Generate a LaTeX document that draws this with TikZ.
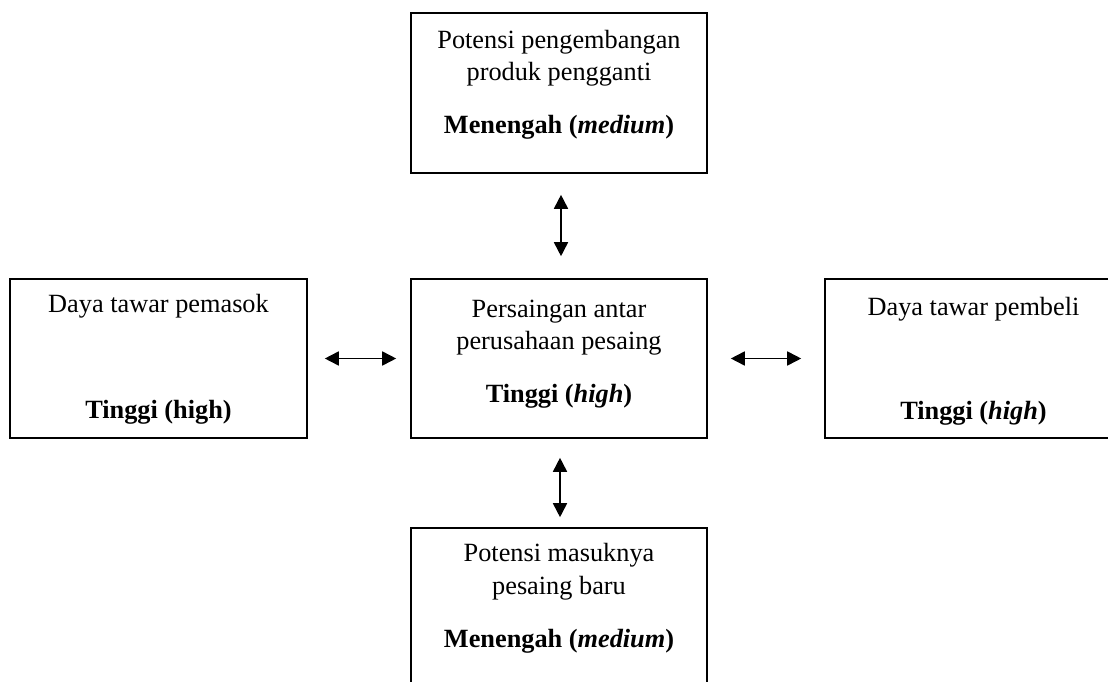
\documentclass[tikz,border=0pt]{standalone}
\usepackage{fontspec}
\setmainfont{Liberation Serif}
\usetikzlibrary{arrows.meta}
\begin{document}
\begin{tikzpicture}[x=1pt,y=-1pt,
  box/.style={draw=black,line width=1.6pt,inner sep=0pt,fill=none},
  lbl/.style={anchor=base,inner sep=0pt,font=\fontsize{26.3}{32}\selectfont},
  arr/.style={line width=1.7pt,{Triangle[length=14pt,width=14pt]}-{Triangle[length=14pt,width=14pt]}}]
\useasboundingbox (0,0) rectangle (1108,682);
\clip (0,0) rectangle (1108,682);
% boxes
\node[box,minimum width=296pt,minimum height=160pt] (top) at (559,93) {};
\node[box,minimum width=296pt,minimum height=159pt] (mid) at (559,358.5) {};
\node[box,minimum width=297pt,minimum height=159pt] (left) at (158.5,358.5) {};
\node[box,minimum width=297pt,minimum height=159pt] (right) at (973.5,358.5) {};
\node[box,minimum width=296pt,minimum height=160pt] (bot) at (559,608) {};
% texts
\node[lbl] (t1) at (559,49) {Potensi pengembangan};
\node[lbl] (t2) at (559,81) {produk pengganti};
\node[lbl] (t3) at (559,134) {\textbf{Menengah (\textit{medium})}};
\node[lbl] (m1) at (559,317) {Persaingan antar};
\node[lbl] (m2) at (559,349) {perusahaan pesaing};
\node[lbl] (m3) at (559,402) {\textbf{Tinggi (\textit{high})}};
\node[lbl] (l1) at (158.5,312) {Daya tawar pemasok};
\node[lbl] (l2) at (158.5,418) {\textbf{Tinggi (high)}};
\node[lbl] (r1) at (973.5,315) {Daya tawar pembeli};
\node[lbl] (r2) at (973.5,419) {\textbf{Tinggi (\textit{high})}};
\node[lbl] (b1) at (559,561) {Potensi masuknya};
\node[lbl] (b2) at (559,594) {pesaing baru};
\node[lbl] (b3) at (559,647) {\textbf{Menengah (\textit{medium})}};
% connectors
\draw[arr,shorten <=21pt,shorten >=22pt] ([xshift=2pt]top.south) -- ([xshift=2pt]mid.north);
\draw[arr,shorten <=19pt,shorten >=10pt] ([xshift=1pt]mid.south) -- ([xshift=1pt]bot.north);
\draw[arr,shorten <=17pt,shorten >=14pt] (left.east) -- (mid.west);
\draw[arr,shorten <=23pt,shorten >=23pt] (mid.east) -- (right.west);
\end{tikzpicture}
\end{document}
